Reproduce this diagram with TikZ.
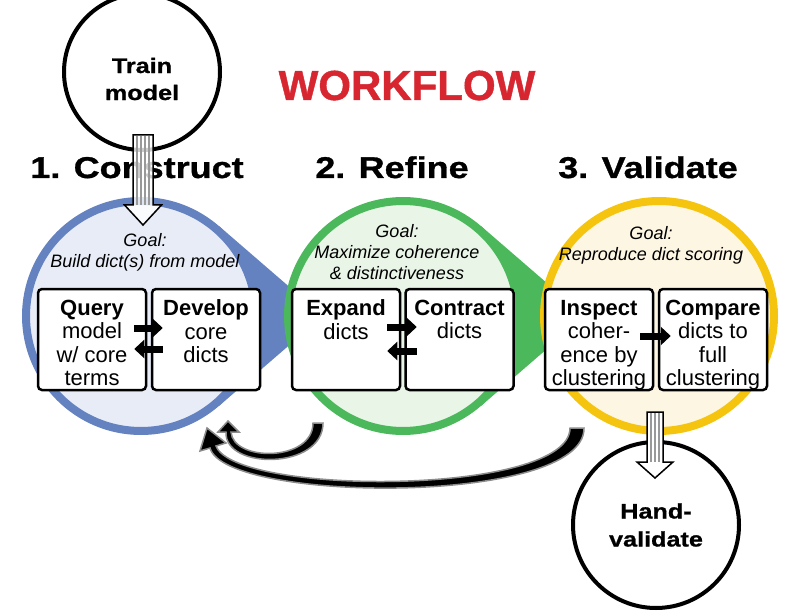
\documentclass[tikz,border=0pt]{standalone}
\usepackage{fontspec}
\setmainfont{Liberation Sans}
\newfontfamily\widefont[FakeStretch=1.2,FakeBold=1]{Liberation Sans}
\newfontfamily\heavyfont[FakeBold=1]{Liberation Sans}
\usetikzlibrary{positioning,calc,arrows.meta}
\definecolor{bluefg}{HTML}{6382BF}
\definecolor{bluebg}{HTML}{E8ECF7}
\definecolor{greenfg}{HTML}{4CB85C}
\definecolor{greenbg}{HTML}{E9F5E7}
\definecolor{yellowfg}{HTML}{F5C40F}
\definecolor{yellowbg}{HTML}{FDF6E3}
\definecolor{wfred}{HTML}{D7262F}

\begin{document}
\begin{tikzpicture}[x=1pt, y=-1pt,
    stage/.style={circle, line width=8pt, minimum size=230pt, inner sep=0pt},
    ring/.style={circle, draw, fill=white, line width=4pt, minimum size=#1, inner sep=0pt},
    box/.style={draw, fill=white, line width=2.5pt, rounded corners=4pt, minimum width=108pt, minimum height=101pt, inner sep=0pt},
    boxtext/.style={align=center, inner sep=0pt, font=\fontsize{22}{23.5}\selectfont},
    goal/.style={align=center, inner sep=0pt, anchor=north, font=\fontsize{18}{21}\selectfont\itshape},
    title/.style={anchor=base, inner sep=0pt, font=\widefont\bfseries\fontsize{30}{36}\selectfont},
    blk/.style={line width=7pt, -{Triangle[length=10pt,width=18pt]}},
    curvy/.style={fill=black, draw=black!45, line width=1.5pt},
    hollow/.style={fill=white, draw=black, line width=1.5pt}]
    \useasboundingbox (0,0) rectangle (800,612);

    % the three stages
    \fill[bluefg] (141,316) -- (218.8,225.9) -- (323,316) -- (218.8,406.1) -- cycle;
    \node[stage, draw=bluefg, fill=bluebg] (construct) at (141,316) {};
    \fill[greenfg] (403,316) -- (480.8,225.9) -- (585,316) -- (480.8,406.1) -- cycle;
    \node[stage, draw=greenfg, fill=greenbg] (refine) at (403,316) {};
    \node[stage, draw=yellowfg, fill=yellowbg] (validate) at (659,316) {};

    \node[anchor=base, inner sep=0pt, text=wfred, font=\heavyfont\bfseries\fontsize{42}{48}\selectfont] (workflow) at (407,100) {WORKFLOW};
    \node[title] (constructtitle) at (137,178) {1. Construct};
    \node[title] (refinetitle) at (392,178) {2. Refine};
    \node[title] (validatetitle) at (648,178) {3. Validate};

    \node[goal] (constructgoal) at (145,233) {Goal:\\Build dict(s) from model};
    \node[goal] (refinegoal) at (397,224) {Goal:\\Maximize coherence\\\& distinctiveness};
    \node[goal] (validategoal) at (651,226) {Goal:\\Reproduce dict scoring};

    % steps
    \node[box] (query) at (92,339.5) {};
    \node[box] (develop) at (206,339.5) {};
    \node[box] (expand) at (346,339.5) {};
    \node[box] (contract) at (459.5,339.5) {};
    \node[box] (inspect) at (599,339.5) {};
    \node[box] (compare) at (713,339.5) {};
    \node[boxtext, below=12pt of query.north] (querytext) {\textbf{Query}\\model\\w/ core\\terms};
    \node[boxtext, below=12pt of develop.north] (developtext) {\textbf{Develop}\\core\\dicts};
    \node[boxtext, below=12pt of expand.north] (expandtext) {\textbf{Expand}\\dicts};
    \node[boxtext, below=12pt of contract.north] (contracttext) {\textbf{Contract}\\dicts};
    \node[boxtext, below=12pt of inspect.north] (inspecttext) {\textbf{Inspect}\\coher-\\ence by\\clustering};
    \node[boxtext, below=12pt of compare.north] (comparetext) {\textbf{Compare}\\dicts to\\full\\clustering};

    \draw[blk] ($(query.east)+(-13,-11.5)$) -- ($(develop.west)+(12,-11.5)$);
    \draw[blk] ($(develop.west)+(12,9.5)$) -- ($(query.east)+(-13,9.5)$);
    \draw[blk] ($(expand.east)+(-14,-12.5)$) -- ($(contract.west)+(12.5,-12.5)$);
    \draw[blk] ($(contract.west)+(12.5,11.5)$) -- ($(expand.east)+(-14,11.5)$);
    \draw[blk] ($(inspect.east)+(-14,-3.5)$) -- ($(compare.west)+(13,-3.5)$);

    % loops back
    \draw[curvy] (313,423) -- (323,423) .. controls (323,470) and (224,470) .. (226,432) -- (218,432) -- (228,421) -- (239,432) -- (231,432) .. controls (233,462) and (313,462) .. (313,423) -- cycle;
    \draw[curvy] (570,428) -- (584,428) .. controls (585,506) and (225,503) .. (210,448) -- (200,451) -- (207,428) -- (226,443) -- (216,446) .. controls (235,496) and (570,496) .. (570,428) -- cycle;

    % start and end
    \node[ring=156pt] (train) at (142,72) {};
    \node[align=center, inner sep=0pt, font=\widefont\bfseries\fontsize{21}{27}\selectfont] (traintext) at (142,79) {Train\\model};
    \draw[hollow, fill opacity=0.8] (133,135) -- (153,135) -- (153,205) -- (161.5,205) -- (143,225) -- (124.5,205) -- (133,205) -- cycle;
    \foreach \s in {-6,-2,2,6}
        \draw[black!40, line width=1.5pt] (143+\s,136) -- (143+\s,205);

    \node[ring=166pt, align=center, font=\widefont\bfseries\fontsize{21}{28}\selectfont] (hand) at (656,525) {Hand-\\validate};
    \draw[hollow] (647,412) -- (663,412) -- (663,462) -- (673,462) -- (655,478) -- (637,462) -- (647,462) -- cycle;
    \foreach \s in {-4,0,4}
        \draw[black!40, line width=1.5pt] (655+\s,413) -- (655+\s,462);
\end{tikzpicture}
\end{document}
